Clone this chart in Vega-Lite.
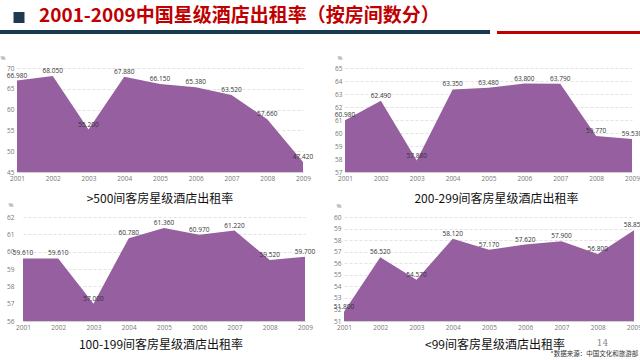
{
  "$schema": "https://vega.github.io/schema/vega-lite/v6.json",
  "padding": 0,
  "spacing": 20,
  "datasets": {
    "p1": [
      {"year": "2001", "rate": 66.98}, {"year": "2002", "rate": 68.05}, {"year": "2003", "rate": 55.2},
      {"year": "2004", "rate": 67.88}, {"year": "2005", "rate": 66.15}, {"year": "2006", "rate": 65.38},
      {"year": "2007", "rate": 63.52}, {"year": "2008", "rate": 57.66}, {"year": "2009", "rate": 47.42}
    ],
    "p2": [
      {"year": "2001", "rate": 60.98}, {"year": "2002", "rate": 62.49}, {"year": "2003", "rate": 57.88},
      {"year": "2004", "rate": 63.35}, {"year": "2005", "rate": 63.48}, {"year": "2006", "rate": 63.8},
      {"year": "2007", "rate": 63.79}, {"year": "2008", "rate": 59.77}, {"year": "2009", "rate": 59.53}
    ],
    "p3": [
      {"year": "2001", "rate": 59.61}, {"year": "2002", "rate": 59.61}, {"year": "2003", "rate": 57.0},
      {"year": "2004", "rate": 60.78}, {"year": "2005", "rate": 61.36}, {"year": "2006", "rate": 60.97},
      {"year": "2007", "rate": 61.22}, {"year": "2008", "rate": 59.52}, {"year": "2009", "rate": 59.7}
    ],
    "p4": [
      {"year": "2001", "rate": 51.8}, {"year": "2002", "rate": 56.52}, {"year": "2003", "rate": 54.57},
      {"year": "2004", "rate": 58.12}, {"year": "2005", "rate": 57.17}, {"year": "2006", "rate": 57.62},
      {"year": "2007", "rate": 57.9}, {"year": "2008", "rate": 56.8}, {"year": "2009", "rate": 58.85}
    ]
  },
  "title": {
    "text": "*数据来源：中国文化和旅游部",
    "orient": "bottom",
    "anchor": "end",
    "dx": -6,
    "offset": 0,
    "fontSize": 6.5,
    "fontWeight": "normal",
    "color": "#333",
    "font": "Noto Sans CJK SC"
  },
  "vconcat": [
    {
      "width": 623,
      "height": 23,
      "data": {"values": [{}]},
      "layer": [
        {
          "mark": {"type": "rect", "color": "#1d3a50"},
          "encoding": {
            "x": {"datum": -3.5, "type": "quantitative", "scale": {"domain": [0, 623], "nice": false, "zero": false}, "axis": null},
            "x2": {"datum": 7.5},
            "y": {"datum": 12, "type": "quantitative", "scale": {"domain": [0, 23], "reverse": true, "nice": false, "zero": false}, "axis": null},
            "y2": {"datum": 23}
          }
        },
        {
          "mark": {"type": "rect", "color": "#17394d"},
          "encoding": {
            "x": {"datum": -17, "type": "quantitative", "scale": {"domain": [0, 623], "nice": false, "zero": false}, "axis": null},
            "x2": {"datum": 473},
            "y": {"datum": 30, "type": "quantitative", "scale": {"domain": [0, 23], "reverse": true, "nice": false, "zero": false}, "axis": null},
            "y2": {"datum": 34}
          }
        },
        {
          "mark": {"type": "rect", "color": "#c00000"},
          "encoding": {
            "x": {"datum": 480, "type": "quantitative", "scale": {"domain": [0, 623], "nice": false, "zero": false}, "axis": null},
            "x2": {"datum": 623},
            "y": {"datum": 31, "type": "quantitative", "scale": {"domain": [0, 23], "reverse": true, "nice": false, "zero": false}, "axis": null},
            "y2": {"datum": 34}
          }
        },
        {
          "mark": {"type": "text", "text": "2001-2009中国星级酒店出租率（按房间数分）", "align": "left", "baseline": "middle", "fontSize": 19, "fontWeight": "bold", "color": "#c00000", "font": "Noto Sans CJK SC"},
          "encoding": {
            "x": {"datum": 22, "type": "quantitative", "scale": {"domain": [0, 623], "nice": false, "zero": false}, "axis": null},
            "y": {"datum": 16, "type": "quantitative", "scale": {"domain": [0, 23], "reverse": true, "nice": false, "zero": false}, "axis": null}
          }
        }
      ]
    },
    {
      "spacing": -4,
      "vconcat": [
        {
          "hconcat": [
            {
              "width": 286, "height": 104,
              "data": {"name": "p1"},
              "title": {"text": ">500间客房星级酒店出租率", "orient": "bottom", "offset": 12},
              "encoding": {
                "x": {"field": "year", "type": "ordinal", "scale": {"type": "point", "padding": 0}},
                "y": {"field": "rate", "type": "quantitative", "scale": {"domain": [45, 70], "nice": false, "zero": false}, "axis": {"values": [45, 50, 55, 60, 65, 70], "title": "\u00a0\u00a0\u00a0\u00a0%", "titleX": -17}}
              },
              "layer": [
                {"mark": {"type": "area", "color": "#965f9f", "opacity": 1, "clip": true}},
                {"mark": {"type": "text", "dy": -5, "fontSize": 6.5, "color": "#333", "font": "Open Sans"}, "encoding": {"text": {"field": "rate", "type": "quantitative", "format": ".3f"}}}
              ]
            },
            {
              "width": 287, "height": 104,
              "data": {"name": "p2"},
              "title": {"text": "200-299间客房星级酒店出租率", "orient": "bottom", "offset": 12, "dx": 8},
              "encoding": {
                "x": {"field": "year", "type": "ordinal", "scale": {"type": "point", "padding": 0}},
                "y": {"field": "rate", "type": "quantitative", "scale": {"domain": [57, 65], "nice": false, "zero": false}, "axis": {"values": [57, 58, 59, 60, 61, 62, 63, 64, 65], "title": "%", "titleX": -8}}
              },
              "layer": [
                {"mark": {"type": "area", "color": "#965f9f", "opacity": 1, "clip": true}},
                {"mark": {"type": "text", "dy": -5, "fontSize": 6.5, "color": "#333", "font": "Open Sans"}, "encoding": {"text": {"field": "rate", "type": "quantitative", "format": ".3f"}}}
              ]
            }
          ],
          "spacing": 20
        },
        {
          "hconcat": [
            {
              "width": 288, "height": 104,
              "data": {"name": "p3"},
              "title": {"text": "100-199间客房星级酒店出租率", "orient": "bottom", "offset": 9},
              "encoding": {
                "x": {"field": "year", "type": "ordinal", "scale": {"type": "point", "padding": 0, "range": [6, 288]}},
                "y": {"field": "rate", "type": "quantitative", "scale": {"domain": [56, 62], "nice": false, "zero": false}, "axis": {"values": [56, 57, 58, 59, 60, 61, 62], "title": "%", "titleX": -9, "titleY": -13}}
              },
              "layer": [
                {"mark": {"type": "area", "color": "#965f9f", "opacity": 1, "clip": true}},
                {"mark": {"type": "text", "dy": -5, "fontSize": 6.5, "color": "#333", "font": "Open Sans"}, "encoding": {"text": {"field": "rate", "type": "quantitative", "format": ".3f"}}}
              ]
            },
            {
              "width": 290, "height": 104,
              "data": {"name": "p4"},
              "title": {"text": "<99间客房星级酒店出租率", "orient": "bottom", "offset": 9, "dx": 6},
              "encoding": {
                "x": {"field": "year", "type": "ordinal", "scale": {"type": "point", "padding": 0}},
                "y": {"field": "rate", "type": "quantitative", "scale": {"domain": [51, 60], "nice": false, "zero": false}, "axis": {"values": [51, 52, 53, 54, 55, 56, 57, 58, 59, 60], "title": "%", "titleX": -8, "titleY": -12}}
              },
              "layer": [
                {"mark": {"type": "area", "color": "#965f9f", "opacity": 1, "clip": true}},
                {"mark": {"type": "text", "dy": -5, "fontSize": 6.5, "color": "#333", "font": "Open Sans"}, "encoding": {"text": {"field": "rate", "type": "quantitative", "format": ".3f"}}}
              ]
            }
          ],
          "spacing": 17,
          "title": {"text": "14", "orient": "bottom", "anchor": "end", "dx": -36, "offset": -12, "fontSize": 9, "fontWeight": "normal", "color": "#888", "font": "DejaVu Serif"}
        }
      ]
    }
  ],
  "config": {
    "font": "Noto Sans CJK SC",
    "view": {"stroke": null},
    "title": {"font": "Noto Sans CJK SC", "fontSize": 12, "fontWeight": "normal", "color": "#111"},
    "axisX": {"labelAngle": 0, "labelFontSize": 6.5, "labelColor": "#777", "labelFont": "Open Sans", "ticks": false, "domainColor": "#d0d0d0", "grid": false, "title": null, "labelPadding": 3},
    "axisY": {"labelFontSize": 6.5, "labelColor": "#777", "labelFont": "Open Sans", "ticks": false, "domain": false, "gridColor": "#e3e3e3", "gridDash": [3, 2], "labelPadding": 3, "titleAngle": 0, "titleFontSize": 6, "titleFontWeight": "normal", "titleColor": "#777", "titleAlign": "left", "titleBaseline": "middle", "titleX": -10, "titleY": -11, "titleFont": "Open Sans"}
  }
}
